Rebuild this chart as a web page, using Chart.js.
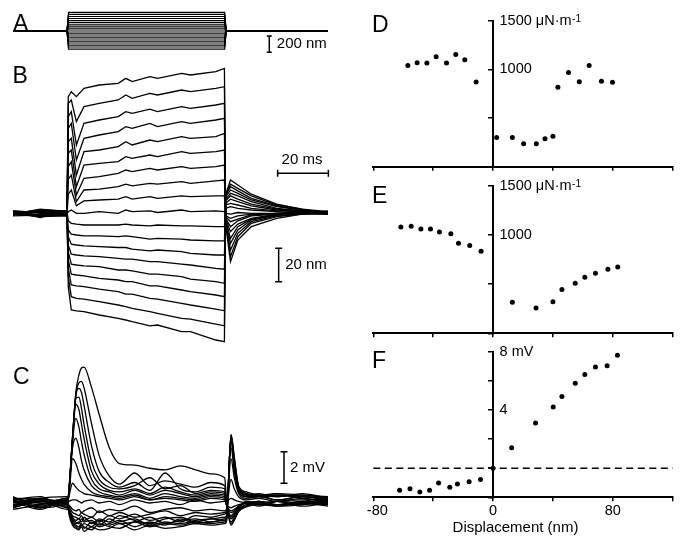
<!DOCTYPE html>
<html>
<head>
<meta charset="utf-8">
<script src="https://cdn.jsdelivr.net/npm/chart.js@4.4.0/dist/chart.umd.min.js"></script>
<style>
  html, body { margin: 0; padding: 0; background: #fff; }
  #wrap { position: relative; width: 683px; height: 543px; overflow: hidden; }
  #wrap canvas { position: absolute; left: 0; top: 0; }
</style>
</head>
<body>
<div id="wrap">
  <canvas id="cA" width="683" height="543"></canvas>
  <canvas id="cB" width="683" height="543"></canvas>
  <canvas id="cC" width="683" height="543"></canvas>
  <canvas id="cD" width="683" height="543"></canvas>
  <canvas id="cE" width="683" height="543"></canvas>
  <canvas id="cF" width="683" height="543"></canvas>
</div>
<script>
// ---- A: stimulus steps (nm), shared time base in ms ----
const aTime = [0, 21.3, 21.9, 83.5, 84.1, 124.3];
const aLevels = [229, 204, 178, 153, 127, 102, 76, 51, 25, 0, -25, -49, -74, -98, -123, -147, -172, -196, -221];

// ---- B: bundle displacement (nm) ----
const bTime = [0, 10.7, 21.3, 21.8, 23.0, 25.0, 28.0, 34, 41.5, 44.5, 47, 54, 57, 66.5, 70, 80, 83.4, 83.9, 85.8, 88.7, 94, 104, 114, 124.3];
const bTraces = [
  [-0.5, 1.5, 1, 70, 73, 70, 75, 77, 78, 81, 79, 82, 81, 84, 83, 85, 87, -7, -29, -16, -8, -3, -0.5, 1],
  [1, -1.5, -1, 66, 68, 55, 64, 66, 68, 71, 69, 72, 71, 74, 73, 75, 76, -5, -26, -14, -6, -2, -0.5, 0],
  [-1, 2, 1.5, 58, 61, 41, 54, 56, 58, 61, 60, 62.5, 61, 64, 63, 65, 66, -5, -22, -12, -5, -1.5, 0, -0.5],
  [0, -2, -1.5, 51, 54, 32, 45, 47, 49, 52, 51, 54, 52, 55, 54, 56, 57, -4.5, -18, -10, -4, -1, 1, 0],
  [1.5, 0.5, 0, 43, 45, 23, 37, 38, 40, 43, 41, 44, 43, 46, 45, 46, 48, -4, -15, -8, -3.5, -1, 0, 1.5],
  [-0.5, 2.5, 1, 36, 38, 16, 29, 30, 31, 34, 33, 35, 34, 37, 36, 37, 38, -3.5, -11, -6.5, -3, -0.5, 0, -0.5],
  [-1.5, -1, -0.5, 28, 31, 11, 21, 22, 24, 26, 25, 27, 26, 28, 27, 28, 29, -3, -8, -4.5, -1.5, -0.5, 1, 0],
  [1, -2.5, 1.5, 20.5, 23, 7, 14, 14.5, 16, 17.5, 16.5, 18, 17.5, 19, 18, 19.5, 20, -2, -5, -3.5, -1, 0, 0, 1],
  [0, 1, -1, 11.5, 14, 4.5, 7.5, 8, 8.5, 10, 8.5, 10, 9, 10.5, 10, 10.5, 10.5, -1.5, -3, -1.5, -0.5, 0, 1, 0],
  [0.5, -1.5, -0.5, 1, 2, 0, 0, 1, 0, 2, 1, 1.5, 0.5, 2, 1, 1.5, 1, 0, -0.5, 0.5, 0, 0, -0.5, 0],
  [0, 2, 1, -4.5, -6, -6.5, -7, -7, -7, -6.5, -7, -7.5, -7, -7.5, -7.5, -8, -8, 3, 4, 3, 2, 1, 0, 0],
  [-0.5, -2, 0, -10, -12.5, -13, -13.5, -13.5, -14, -13.5, -14, -15.5, -15, -15.5, -16, -16.5, -16.5, 5, 6, 5, 3, 1.5, 1, -0.5],
  [1, 0.5, -0.5, -14, -18.5, -19, -19.5, -20, -20.5, -20.5, -21.5, -22.5, -22, -23, -24, -25, -25, 6, 8.5, 7, 4.5, 2, 1, 1],
  [-1, 1.5, 1, -19, -24.5, -25, -25.5, -26, -27, -27.5, -27.5, -29, -29, -30.5, -31, -33, -33.5, 7.5, 10.5, 8.5, 5.5, 2.5, 1.5, 0],
  [0, -1, -1.5, -23, -30.5, -31, -31.5, -32, -34, -34, -34.5, -36.5, -36.5, -38, -39.5, -41, -42, 8.5, 12, 10.5, 7, 3, 1.5, 1],
  [1.5, 0, 0, -28, -36.5, -37, -37.5, -39, -40, -41, -41, -43.5, -43.5, -46, -47, -49, -50, 10, 14, 12, 8, 4, 2, -0.5],
  [-0.5, 2, 1, -33, -43, -43.5, -44, -45.5, -47, -48.5, -48.5, -51, -51.5, -54, -55, -57.5, -58.5, 10.5, 16, 13.5, 9, 4.5, 2, 0],
  [1, -1, -1, -38, -50, -51, -51.5, -53, -55, -56, -57, -59, -60, -63, -63.5, -66.5, -67.5, 11, 17.5, 15, 10.5, 5, 2.5, 1],
  [-0.5, 1, 0, -44, -58, -58.5, -59, -61, -63, -64, -65, -67.5, -67, -71, -71, -76, -77, 11.5, 20, 17, 11.5, 5.5, 2.5, 0]
];

// ---- C: receptor potential (mV) ----
const cTime = [0, 10.7, 21.4, 21.8, 23.5, 24.8, 26, 27, 28, 31, 34, 38, 42, 48, 54, 60, 66, 72, 78, 83.5, 84.2, 86.0, 87.3, 89, 92, 97, 104, 114, 124.3];
const cTraces = [
  [0.2, -0.3, 0.1, 0.3, 4.2, 7.0, 8.1, 8.55, 8.6, 7.3, 5.6, 3.5, 2.5, 2.4, 2.2, 2.1, 2.35, 2.1, 1.85, 1.6, 0.2, -1.4, -1.1, -0.55, -0.25, -0.1, -0.2, 0, -0.1],
  [-0.2, 0.3, 0, 0.3, 4.2, 6.9, 7.6, 7.7, 7.3, 5.0, 3.0, 1.7, 1.2, 1.9, 1.1, 1.4, 1.2, 1.0, 1.3, 1.1, 0.1, -1.3, -1.0, -0.5, -0.2, 0.1, -0.2, -0.1, 0.2],
  [0.1, -0.2, 0.2, 0.3, 4.2, 6.8, 7.25, 7.0, 6.2, 3.6, 2.0, 1.3, 1.0, 1.3, 0.8, 1.9, 0.9, 0.7, 1.0, 0.9, 0, -1.2, -0.9, -0.4, -0.1, 0, 0.1, -0.2, 0],
  [-0.1, 0.2, -0.2, 0.3, 4.1, 6.6, 6.7, 6.0, 5.0, 2.6, 1.5, 1.0, 0.9, 1.1, 1.6, 0.9, 1.1, 0.6, 0.8, 0.7, 0, -1.0, -0.8, -0.4, -0.2, 0.1, -0.1, 0, -0.2],
  [0.3, 0, 0.1, 0.3, 4.0, 6.25, 5.9, 5.0, 4.1, 2.0, 1.2, 0.8, 0.7, 0.9, 0.6, 1.0, 0.7, 0.5, 0.7, 0.6, -0.1, -0.9, -0.7, -0.3, 0, -0.2, 0.1, 0.2, -0.1],
  [-0.3, 0.1, 0.2, 0.3, 3.9, 5.35, 4.8, 3.9, 3.1, 1.5, 0.9, 0.7, 0.5, 0.8, 0.5, 0.8, 0.6, 0.4, 0.6, 0.5, -0.1, -0.8, -0.6, -0.3, 0.1, 0, -0.1, 0, 0.2],
  [0, 0.3, -0.1, 0.3, 3.5, 4.1, 3.5, 2.7, 2.1, 1.1, 0.7, 0.5, 0.4, 0.6, 0.3, 0.6, 0.4, 0.3, 0.5, 0.4, -0.1, -0.6, -0.5, -0.2, 0, 0.1, -0.1, 0.1, 0],
  [0.2, -0.1, 0.3, 0.3, 2.8, 2.5, 1.9, 1.5, 1.2, 0.7, 0.5, 0.4, 0.3, 0.5, 0.2, 0.4, 0.3, 0.2, 0.4, 0.3, -0.1, -0.5, -0.4, -0.2, 0, -0.1, 0.1, -0.1, 0.1],
  [-0.2, 0.1, 0, 0.2, 1.25, 1.0, 0.8, 0.7, 0.6, 0.5, 0.4, 0.3, 0.2, 0.4, 0.2, 0.3, 0.2, 0.1, 0.3, 0.2, -0.1, -0.3, -0.2, -0.1, 0, 0.1, -0.1, 0.1, 0],
  [0.1, -0.2, 0.2, 0.1, 0.2, 0.2, 0.1, 0, 0.1, 0.2, 0, 0.1, -0.1, 0.2, 0, 0.1, -0.1, 0.2, 0, 0.1, 0.1, 0.3, 0.2, 0.1, 0, -0.1, 0.1, 0, -0.1],
  [0.3, 0, -0.2, -0.1, -0.4, -0.5, -0.4, -0.6, -0.5, -0.3, -0.6, -0.4, -0.5, -0.2, -0.6, -0.4, -0.3, -0.5, -0.4, -0.5, -0.4, 1.5, 0.9, 0.4, 0.2, 0.3, 0.1, 0.3, 0],
  [-0.1, 0.2, 0.1, -0.1, -0.6, -0.7, -0.8, -0.6, -0.7, -0.9, -0.5, -0.8, -0.6, -0.9, -0.7, -0.5, -0.8, -0.6, -0.7, -0.6, -0.5, 2.8, 1.6, 0.6, 0.3, 0.4, 0.2, 0.4, 0.2],
  [0.4, -0.3, 0.3, -0.2, -0.8, -0.9, -1.0, -0.8, -1.1, -0.9, -1.2, -0.8, -1.0, -0.7, -1.1, -0.9, -1.2, -0.8, -0.9, -0.7, -0.6, 3.5, 2.0, 0.7, 0.4, 0.3, 0.5, 0.3, 0.1],
  [-0.3, 0.1, -0.1, -0.2, -0.9, -1.1, -1.0, -1.2, -0.9, -1.3, -1.0, -1.2, -0.8, -1.1, -1.3, -1.0, -0.9, -1.2, -1.0, -0.9, -0.8, 3.9, 2.3, 0.8, 0.4, 0.5, 0.2, 0.4, 0.3],
  [0.2, 0.4, -0.3, -0.3, -1.0, -1.2, -1.3, -1.0, -1.2, -1.1, -1.4, -1.0, -1.3, -1.2, -0.9, -1.3, -1.1, -1.0, -1.2, -1.0, -0.9, 4.1, 2.5, 0.9, 0.5, 0.4, 0.6, 0.3, 0.2],
  [-0.4, -0.1, 0.3, -0.3, -1.1, -1.3, -1.2, -1.4, -1.3, -1.5, -1.1, -1.4, -1.2, -1.0, -1.4, -1.2, -1.3, -1.1, -1.0, -1.1, -1.0, 4.2, 2.6, 0.9, 0.5, 0.6, 0.4, 0.5, 0.3],
  [0.1, -0.4, 0.2, -0.3, -1.2, -1.4, -1.5, -1.3, -1.6, -1.2, -1.5, -1.3, -1.1, -1.5, -1.2, -1.4, -1.0, -1.3, -1.2, -1.1, -1.0, 4.3, 2.7, 1.0, 0.6, 0.4, 0.5, 0.4, 0.2],
  [0.3, 0.2, -0.4, -0.4, -1.3, -1.5, -1.6, -1.4, -1.5, -1.7, -1.3, -1.5, -1.6, -1.2, -1.5, -1.3, -1.4, -1.2, -1.3, -1.2, -1.1, 4.3, 2.8, 1.0, 0.6, 0.5, 0.6, 0.5, 0.4],
  [-0.2, 0.3, 0.4, -0.4, -1.4, -1.6, -1.7, -1.5, -1.8, -1.5, -1.7, -1.6, -1.3, -1.7, -1.4, -1.6, -1.5, -1.3, -1.4, -1.3, -1.2, 4.35, 2.9, 1.1, 0.7, 0.5, 0.4, 0.6, 0.3]
];

// ---- D, E: stiffness (uN/m) vs displacement (nm); F: peak potential (mV) ----
const dDisp  = [-56.9, -50.7, -44.2, -38, -31.1, -24.9, -18.9, -11.3, 2.4, 12.9, 20.4, 28.9, 34.7, 40, 43.3, 50.4, 57.6, 64.2, 72.4, 79.8];
const dStiff = [1041, 1069, 1065, 1130, 1065, 1154, 1099, 870, 301, 301, 236, 236, 288, 312, 815, 969, 873, 1041, 877, 867];
const eDisp  = [-61.6, -54.7, -48.2, -41.8, -35.8, -28.2, -23.1, -15.6, -8, 12.9, 28.7, 40, 46, 54.9, 61.3, 68.4, 76.7, 83.3];
const eStiff = [1083, 1089, 1062, 1062, 1032, 1015, 916, 893, 835, 316, 258, 322, 445, 509, 570, 611, 652, 675];
const fDisp  = [-62.4, -55.5, -48.9, -42.4, -36.4, -28.9, -23.8, -16, -8.4, 0, 12.4, 28.4, 40.2, 46, 54.9, 61.3, 68.4, 76.2, 83.1];
const fMv    = [-1.51, -1.42, -1.63, -1.51, -1.01, -1.31, -1.08, -0.94, -0.78, 0, 1.40, 3.10, 4.20, 4.93, 5.83, 6.44, 6.95, 7.04, 7.75];

// tick labels
const stiffTickLabels = [1000, 1500];
const mvTickLabels = [4, 8];
const dispTickLabels = [-80, 0, 80];

const W = 683, H = 543, T_END = 124.3;
const FONT = '"Liberation Sans", Arial, Helvetica, sans-serif';
Chart.defaults.font.family = FONT;
Chart.defaults.color = '#000';

function baseOpts(box, scales){
  return {
    responsive: false, animation: false, devicePixelRatio: 1, events: [],
    layout: { padding: { left: box.l, top: box.t, right: W - box.r, bottom: H - box.b } },
    plugins: { legend: { display: false }, tooltip: { enabled: false } },
    scales
  };
}

function txt(ctx, s, x, y, size, align, base){
  ctx.save();
  ctx.font = size + 'px ' + FONT;
  ctx.fillStyle = '#000';
  ctx.textAlign = align || 'left';
  ctx.textBaseline = base || 'middle';
  ctx.fillText(s, x, y);
  ctx.restore();
}
function letter(ctx, s, x, y){ txt(ctx, s, x, y, 23, 'left', 'alphabetic'); }

function vBar(ctx, x, y1, y2, cap){
  ctx.save(); ctx.strokeStyle = '#000'; ctx.lineWidth = 1.5;
  ctx.beginPath();
  ctx.moveTo(x, y1); ctx.lineTo(x, y2);
  ctx.moveTo(x - cap, y1); ctx.lineTo(x + cap, y1);
  ctx.moveTo(x - cap, y2); ctx.lineTo(x + cap, y2);
  ctx.stroke(); ctx.restore();
}
function hBar(ctx, x1, x2, y, cap){
  ctx.save(); ctx.strokeStyle = '#000'; ctx.lineWidth = 1.5;
  ctx.beginPath();
  ctx.moveTo(x1, y); ctx.lineTo(x2, y);
  ctx.moveTo(x1, y - cap); ctx.lineTo(x1, y + cap);
  ctx.moveTo(x2, y - cap); ctx.lineTo(x2, y + cap);
  ctx.stroke(); ctx.restore();
}
// "1500 uN·m-1" with raised exponent
function unitLabel(ctx, num, x, y){
  ctx.save();
  ctx.font = '14.5px ' + FONT;
  ctx.fillStyle = '#000'; ctx.textAlign = 'left'; ctx.textBaseline = 'middle';
  const main = num + ' \u03bcN\u00b7m';
  ctx.fillText(main, x, y);
  const w = ctx.measureText(main).width;
  ctx.font = '10px ' + FONT; ctx.textBaseline = 'alphabetic';
  ctx.fillText('-1', x + w + 0.5, y + 0.8);
  ctx.restore();
}

function traceChart(id, box, time, traces, yMin, yMax, lw, smooth, deco){
  return new Chart(document.getElementById(id), {
    type: 'line',
    data: { datasets: traces.map(tr => ({
      data: tr.map((v, i) => ({ x: time[i], y: v })),
      borderColor: '#000', borderWidth: lw, pointRadius: 0, tension: 0,
      cubicInterpolationMode: smooth ? 'monotone' : 'default', fill: false
    })) },
    options: baseOpts(box, {
      x: { type: 'linear', min: 0, max: T_END, display: false },
      y: { type: 'linear', min: yMin, max: yMax, display: false }
    }),
    plugins: [{ id: 'deco', afterDraw: deco }]
  });
}

function dotChart(id, box, xs, ys, yMin, yMax, yStep, deco, under){
  const marks = { drawOnChartArea: false, drawTicks: true, tickLength: 4, color: '#000', tickColor: '#000', tickWidth: 1.5, lineWidth: 1.5 };
  const axisLine = { color: '#000', width: 2 };
  return new Chart(document.getElementById(id), {
    type: 'scatter',
    data: { datasets: [{ data: xs.map((x, i) => ({ x, y: ys[i] })), pointRadius: 2.5, pointBackgroundColor: '#000', pointBorderColor: '#000', pointBorderWidth: 0 }] },
    options: baseOpts(box, {
      x: { type: 'linear', min: -80, max: 120, position: 'bottom',
           ticks: { stepSize: 40, display: false },
           grid: marks, border: axisLine, afterFit: s => { s.height = 0; } },
      y: { type: 'linear', min: yMin, max: yMax, position: { x: 0 },
           ticks: { stepSize: yStep, display: false }, grid: marks, border: axisLine }
    }),
    plugins: [{ id: 'deco', afterDraw: deco, beforeDatasetsDraw: under || (() => {}) }]
  });
}

// A
traceChart('cA', { l: 13, r: 328.1, t: 0, b: 62 }, aTime, aLevels.map(L => [0, 0, L, L, 0, 0]), -380, 380, 1.2, false, chart => {
  const { ctx, scales: { x, y } } = chart;
  letter(ctx, 'A', 13, 30.5);
  const xv = x.getPixelForValue(101.1);
  const y1 = y.getPixelForValue(-61), y2 = y.getPixelForValue(-261);
  vBar(ctx, xv, y1, y2, 2.5);
  txt(ctx, '200 nm', xv + 7.5, (y1 + y2) / 2 - 0.5, 15);
});

// B
traceChart('cB', { l: 13, r: 328.1, t: 60, b: 350 }, bTime, bTraces, -82, 92, 1.3, false, chart => {
  const { ctx, scales: { x, y } } = chart;
  letter(ctx, 'B', 12.5, 83.3);
  const xa = x.getPixelForValue(104.4), xb = x.getPixelForValue(124.4), yh = y.getPixelForValue(24);
  hBar(ctx, xa, xb, yh, 3.5);
  txt(ctx, '20 ms', (xa + xb) / 2 - 1, yh - 13, 15, 'center');
  const xv = x.getPixelForValue(104.8);
  const y1 = y.getPixelForValue(-21), y2 = y.getPixelForValue(-41);
  vBar(ctx, xv, y1, y2, 3.5);
  txt(ctx, '20 nm', xv + 6.5, (y1 + y2) / 2, 15);
});

// C
traceChart('cC', { l: 13, r: 328.1, t: 360, b: 540 }, cTime, cTraces, -2.34, 9.05, 1.3, true, chart => {
  const { ctx, scales: { x, y } } = chart;
  letter(ctx, 'C', 13, 383.5);
  const xv = x.getPixelForValue(106.9);
  const y1 = y.getPixelForValue(3.25), y2 = y.getPixelForValue(1.25);
  vBar(ctx, xv, y1, y2, 3.5);
  txt(ctx, '2 mV', xv + 6, (y1 + y2) / 2, 15);
});

// D
dotChart('cD', { l: 373.3, r: 672.7, t: 20.7, b: 166.7 }, dDisp, dStiff, 0, 1500, 500, chart => {
  const { ctx, scales: { x, y } } = chart;
  const x0 = x.getPixelForValue(0) + 6.5;
  unitLabel(ctx, String(stiffTickLabels[1]), x0, y.getPixelForValue(stiffTickLabels[1]));
  txt(ctx, String(stiffTickLabels[0]), x0, y.getPixelForValue(stiffTickLabels[0]), 14.5);
  letter(ctx, 'D', 372, 32);
});

// E
dotChart('cE', { l: 373.3, r: 672.7, t: 186, b: 333.3 }, eDisp, eStiff, 0, 1500, 500, chart => {
  const { ctx, scales: { x, y } } = chart;
  const x0 = x.getPixelForValue(0) + 6.5;
  unitLabel(ctx, String(stiffTickLabels[1]), x0, y.getPixelForValue(stiffTickLabels[1]));
  txt(ctx, String(stiffTickLabels[0]), x0, y.getPixelForValue(stiffTickLabels[0]), 14.5);
  letter(ctx, 'E', 372, 203);
});

// F
dotChart('cF', { l: 373.3, r: 672.7, t: 351.7, b: 497.3 }, fDisp, fMv, -2, 8, 2, chart => {
  const { ctx, chartArea, scales: { x, y } } = chart;
  const x0 = x.getPixelForValue(0) + 6.5;
  txt(ctx, mvTickLabels[1] + ' mV', x0, y.getPixelForValue(mvTickLabels[1]), 14.5);
  txt(ctx, String(mvTickLabels[0]), x0, y.getPixelForValue(mvTickLabels[0]), 14.5);
  dispTickLabels.forEach(v => {
    const lx = x.getPixelForValue(v) + (v < 0 ? 4 : 0);
    txt(ctx, String(v), lx, chartArea.bottom + 17.7, 14.5, 'center', 'alphabetic');
  });
  txt(ctx, 'Displacement (nm)', x.getPixelForValue(15), 532, 15, 'center', 'alphabetic');
  letter(ctx, 'F', 372, 368);
}, chart => {
  // dashed zero-potential line
  const { ctx, chartArea, scales: { y } } = chart;
  const yz = y.getPixelForValue(0);
  ctx.save(); ctx.strokeStyle = '#000'; ctx.lineWidth = 1.5; ctx.setLineDash([7, 4.5]);
  ctx.beginPath(); ctx.moveTo(chartArea.left, yz); ctx.lineTo(chartArea.right, yz); ctx.stroke();
  ctx.restore();
});
</script>
</body>
</html>
